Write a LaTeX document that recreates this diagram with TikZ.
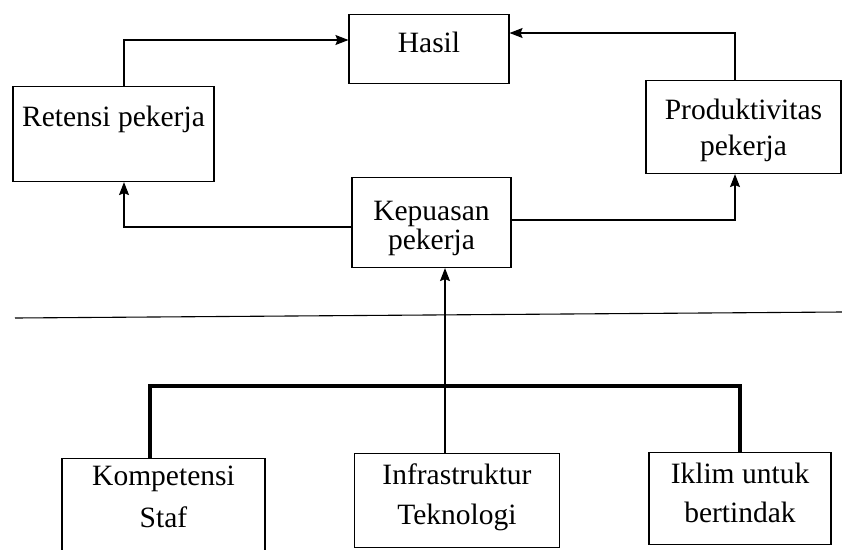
\documentclass[tikz,border=0pt]{standalone}
\usepackage{fontspec}
\setmainfont{Liberation Serif}
\usetikzlibrary{arrows.meta}
\begin{document}
\begin{tikzpicture}[x=1pt,y=-1pt,
  box node/.style={rectangle,draw,line width=1.1pt,inner sep=0pt,align=center,anchor=north,
    font=\fontsize{29.5}{36}\selectfont},
  link/.style={line width=1.1pt,-{Stealth[length=13pt,width=10pt,inset=2pt]}},
  thick link/.style={line width=3.5pt}]

  \useasboundingbox (0,0) rectangle (842,549);
  \clip (0,0) rectangle (842,549);

  \node[box node,minimum width=160pt,text height=38pt,text depth=31pt] (hasil) at (429,14) {Hasil};
  \node[box node,minimum width=201pt,text height=40pt,text depth=55pt] (retensi) at (113.5,86) {Retensi pekerja};
  \node[box node,minimum width=195pt,text height=75pt,text depth=18pt] (produktif) at (743.5,80) {Produktivitas\\pekerja};
  \node[box node,minimum width=159pt,text height=72pt,text depth=18pt,font=\fontsize{29.5}{29}\selectfont] (kepuasan) at (431.5,177) {Kepuasan\\pekerja};

  \node[box node,minimum width=203pt,text height=69pt,text depth=40pt,font=\fontsize{29.5}{42}\selectfont] (kompetensi) at (163.5,458) {Kompetensi\\Staf};
  \node[box node,minimum width=205pt,text height=71pt,text depth=23pt,font=\fontsize{29.5}{40}\selectfont] (infra) at (457,453) {Infrastruktur\\Teknologi};
  \node[box node,minimum width=182pt,text height=70pt,text depth=22pt,font=\fontsize{29.5}{39}\selectfont] (iklim) at (740,452) {Iklim untuk\\bertindak};

  \coordinate (garisL) at (15,318);
  \coordinate (garisR) at (842,312);
  \coordinate (jalur) at (150,386);

  \draw[line width=1.1pt] (garisL) -- (garisR);

  \draw[link] (retensi.north -| 124,0) |- (hasil.west |- 0,40);
  \draw[link] (produktif.north -| 735,0) |- (hasil.east |- 0,33);
  \draw[link] (kepuasan.west |- 0,227) -| (retensi.south -| 124,0);
  \draw[link] (kepuasan.east |- 0,220) -| (produktif.south -| 735,0);
  \draw[link] (infra.north -| 445,0) -- (kepuasan.south -| 445,0);

  \draw[thick link] (kompetensi.north -| jalur) |- (jalur -| iklim.north) -- (iklim.north);
\end{tikzpicture}
\end{document}
